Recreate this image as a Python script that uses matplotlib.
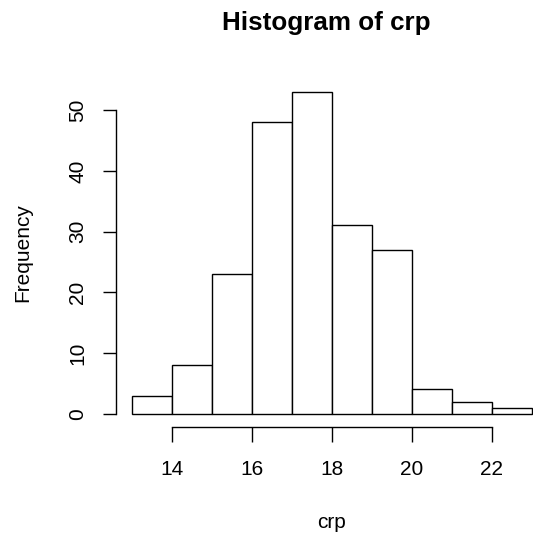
import matplotlib
matplotlib.use("Agg")
import matplotlib.pyplot as plt
import numpy as np

plt.rcParams['font.family'] = ['Liberation Sans', 'DejaVu Sans']

# histogram of crp (bin edges and counts)
bin_edges = [13, 14, 15, 16, 17, 18, 19, 20, 21, 22, 23]
counts = [3, 8, 23, 48, 53, 31, 27, 4, 2, 1]
x_ticks = [14, 16, 18, 20, 22]
y_ticks = [0, 10, 20, 30, 40, 50]

W, H = 533, 535
fig = plt.figure(figsize=(W / 100, H / 100), dpi=100)

# R-like plot region (4% expansion), right side runs past the image edge
left, right, bottom, top = 115.6, 548.0, 426.6, 79.0
ax = fig.add_axes([left / W, 1 - bottom / H, (right - left) / W, (bottom - top) / H])

edges = np.array(bin_edges)
ax.bar(edges[:-1], counts, width=np.diff(edges), align='edge',
       facecolor='white', edgecolor='black', linewidth=1.0)

ax.set_xlim(12.6, 23.4)
ax.set_ylim(-2.12, 55.12)

for s in ['top', 'right']:
    ax.spines[s].set_visible(False)
ax.spines['left'].set_bounds(0, 50)
ax.spines['bottom'].set_bounds(14, 22)
ax.spines['left'].set_linewidth(1.0)
ax.spines['bottom'].set_linewidth(1.0)

ax.set_xticks(x_ticks)
ax.set_yticks(y_ticks)
ax.tick_params(axis='x', length=10.5, width=1.0, pad=13.5, labelsize=15)
ax.tick_params(axis='y', length=9.5, width=1.0, pad=11, labelsize=15,
               labelrotation=90)
for lab in ax.get_yticklabels():
    lab.set_va('center')

fig.text(326 / W, 1 - 23 / H, 'Histogram of crp', ha='center', va='center',
         fontsize=18.7, fontweight='bold')
fig.text(332 / W, 1 - 523 / H, 'crp', ha='center', va='center', fontsize=15)
fig.text(23 / W, 1 - 253 / H, 'Frequency', ha='center', va='center',
         fontsize=15, rotation=90)

fig.savefig('out.png', dpi=100)
